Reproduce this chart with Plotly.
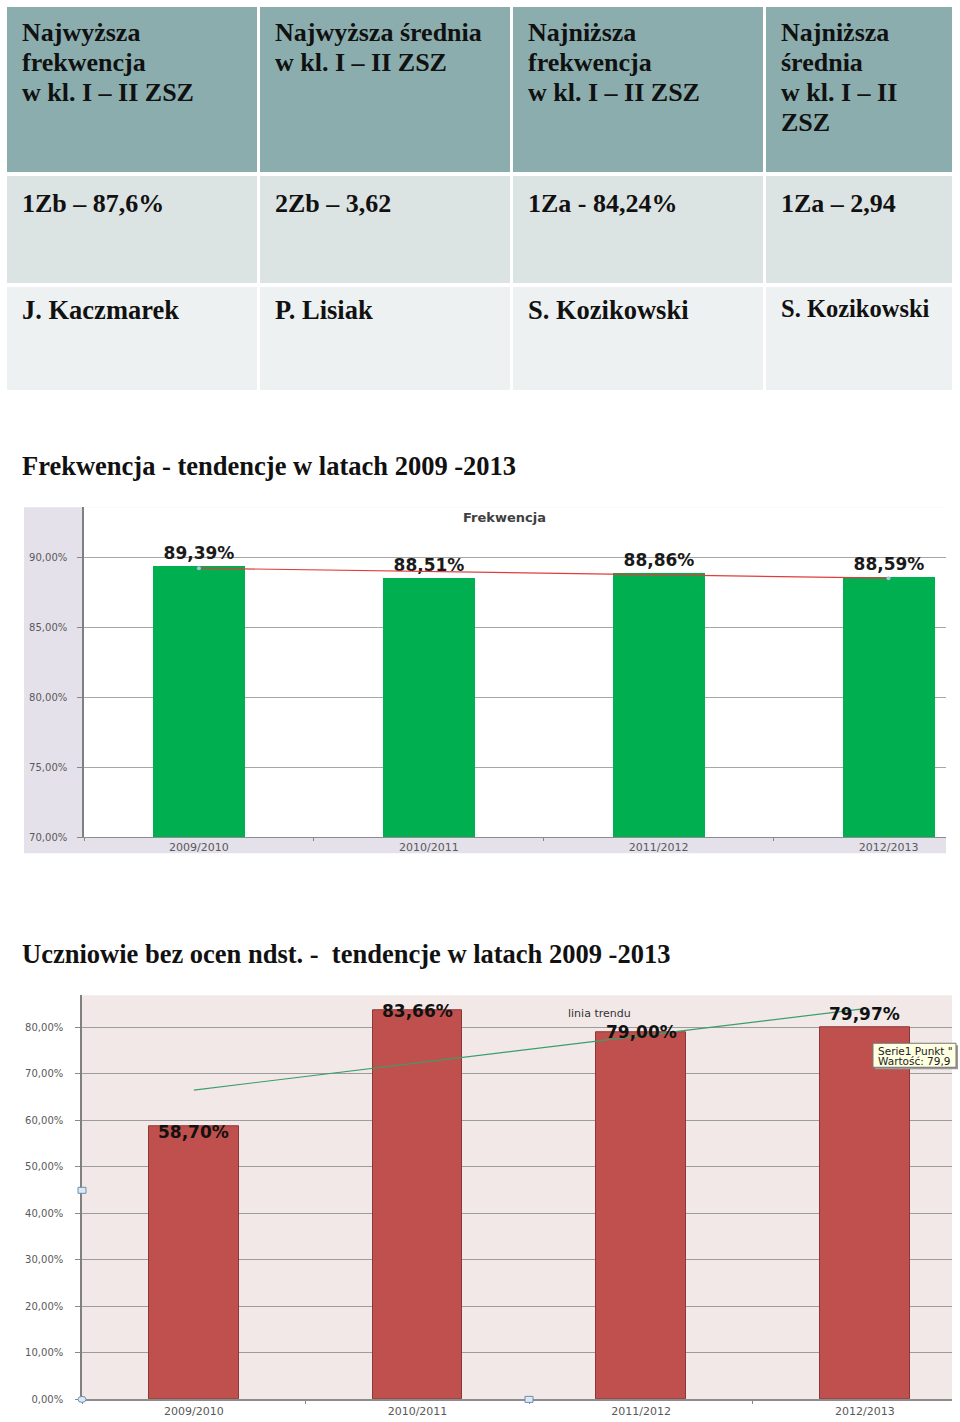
import plotly.graph_objects as go

# ---------------- data ----------------
categories = ["2009/2010", "2010/2011", "2011/2012", "2012/2013"]
attendance = [89.39, 88.51, 88.86, 88.59]          # Frekwencja (%)
attendance_trend = [89.21, 88.50]                  # trend line at first/last year
passing = [58.70, 83.66, 79.00, 79.97]             # Uczniowie bez ocen ndst. (%)
passing_trend = [66.5, 84.0]                       # trend line at first/last year
y1_ticks = [70, 75, 80, 85, 90]
y2_ticks = [0, 10, 20, 30, 40, 50, 60, 70, 80]

headers = [
    ["Najwyższa", "frekwencja", "w kl. I – II ZSZ"],
    ["Najwyższa średnia", "w kl. I – II ZSZ"],
    ["Najniższa", "frekwencja", "w kl. I – II ZSZ"],
    ["Najniższa", "średnia", "w kl. I – II", "ZSZ"],
]
row_results = ["1Zb – 87,6%", "2Zb – 3,62", "1Za - 84,24%", "1Za – 2,94"]
row_teachers = ["J. Kaczmarek", "P. Lisiak", "S. Kozikowski", "S. Kozikowski"]

title1 = "Frekwencja - tendencje w latach 2009 -2013"
title2 = "Uczniowie bez ocen ndst. -  tendencje w latach 2009 -2013"
chart1_title = "Frekwencja"
trend_label = "linia trendu"
tooltip_lines = ["Serie1 Punkt \"", "Wartość: 79,9"]


def pct(v):
    return f"{v:.2f}".replace(".", ",") + "%"


# ---------------- layout helpers ----------------
W, H = 960, 1422
K = 1.0045   # vertical correction


def px(x):
    return x / W


def py(y):
    return 1 - y * K / H


shapes = []
annotations = []


def rect(x0, y0, x1, y1, fill, line=None, lw=0, layer="below"):
    shapes.append(dict(type="rect", xref="paper", yref="paper",
                       x0=px(x0), x1=px(x1), y0=py(y1), y1=py(y0),
                       fillcolor=fill, layer=layer,
                       line=dict(color=line or fill, width=lw)))


def text(x, y, s, size, family="Liberation Serif", color="#111111",
         weight="bold", xanchor="left", yanchor="middle"):
    annotations.append(dict(xref="paper", yref="paper", x=px(x), y=py(y),
                            text=s, showarrow=False, xanchor=xanchor,
                            yanchor=yanchor,
                            font=dict(family=family, size=size, color=color,
                                      weight=weight)))


# ---------------- table ----------------
col_edges = [(7, 257), (260, 510), (513, 763), (766, 952)]
row_edges = [(7, 172), (176, 283), (287, 390)]
row_colors = ["#8BADAD", "#DCE3E3", "#EDF1F1"]
for (r0, r1), c in zip(row_edges, row_colors):
    for (c0, c1) in col_edges:
        rect(c0, r0, c1, r1, c)

for (c0, _), lines in zip(col_edges, headers):
    for i, ln in enumerate(lines):
        text(c0 + 13, 32 + 30 * i, ln, 26)

for (c0, _), s in zip(col_edges, row_results):
    text(c0 + 13, 203, s, 26)
for i, ((c0, _), s) in enumerate(zip(col_edges, row_teachers)):
    if i == 3:
        text(c0 + 13, 308, s, 24.5)
    else:
        text(c0 + 13, 310, s, 26.5)

# ---------------- titles ----------------
text(20, 466, title1, 26.5)
text(20, 954, title2, 26.5)

# ---------------- chart 1 backgrounds ----------------
rect(24, 507, 946, 853, "#E4E1EB")
rect(84, 507, 946, 837, "#FFFFFF")
text(504, 517, chart1_title, 13, family="DejaVu Sans", color="#404040",
     xanchor="center")

# ---------------- chart 2 backgrounds ----------------
rect(82, 995, 952, 1399, "#F2E8E8")

# ---------------- figure ----------------
fig = go.Figure()

fig.add_trace(go.Bar(
    x=categories, y=attendance, width=0.4,
    marker=dict(color="#00B050", line=dict(width=0)),
    text=[pct(v) for v in attendance], textposition="outside",
    textfont=dict(family="DejaVu Sans", size=17, color="#1A1A1A", weight="bold"),
    cliponaxis=False, xaxis="x", yaxis="y", showlegend=False))

fig.add_trace(go.Scatter(
    x=[categories[0], categories[-1]], y=attendance_trend, mode="lines+markers",
    line=dict(color="#E03C3C", width=1.2),
    marker=dict(size=4, color="#A9C4DC"),
    xaxis="x", yaxis="y", showlegend=False))

fig.add_trace(go.Bar(
    x=categories, y=passing, width=0.4,
    marker=dict(color="#C0504D", line=dict(color="#8C3836", width=1)),
    xaxis="x2", yaxis="y2", showlegend=False))

fig.add_trace(go.Scatter(
    x=[categories[0], categories[-1]], y=passing_trend, mode="lines",
    line=dict(color="#3A9E6A", width=1.2),
    xaxis="x2", yaxis="y2", showlegend=False))

# bar labels of chart 2 (label offsets, px)
label_shift = [-6, -1, 0, 13]
for c, v, s in zip(categories, passing, label_shift):
    annotations.append(dict(xref="x2", yref="y2", x=c, y=v, yshift=s,
                            text=pct(v), showarrow=False, yanchor="middle",
                            font=dict(family="DejaVu Sans", size=17,
                                      color="#111111", weight="bold")))

text(599, 1013, trend_label, 11, family="DejaVu Sans", color="#333333",
     weight="normal", xanchor="center")

# tooltip box
rect(875, 1045, 958, 1069, "#9A9A9A", layer="above")
rect(873, 1043, 956, 1067, "#FFFFE1", line="#767676", lw=1, layer="above")
text(876, 1050.5, tooltip_lines[0], 10.5, family="DejaVu Sans", color="#222222",
     weight="normal")
text(876, 1060.5, tooltip_lines[1], 10.5, family="DejaVu Sans", color="#222222",
     weight="normal")

# selection handles (decoration)
for (hx, hy, kind) in [(82, 1190, "rect"), (529, 1399, "rect"), (82, 1399, "circle")]:
    shapes.append(dict(type=kind, xref="paper", yref="paper",
                       x0=px(hx - 4), x1=px(hx + 4), y0=py(hy + 3), y1=py(hy - 3),
                       fillcolor="#DCE8F4", line=dict(color="#6C8FB0", width=1),
                       layer="above"))

axis_font = dict(family="DejaVu Sans", size=10, color="#595959")
xfont = dict(family="DejaVu Sans", size=11, color="#595959")

fig.update_layout(
    width=W, height=H, autosize=False,
    margin=dict(l=0, r=0, t=0, b=0),
    paper_bgcolor="#FFFFFF", plot_bgcolor="rgba(0,0,0,0)",
    bargap=0, showlegend=False,
    shapes=shapes, annotations=annotations,
    xaxis=dict(domain=[px(84), px(946)], anchor="y", type="category",
               range=[-0.5, 3.25], tickson="boundaries", ticks="outside",
               ticklen=3, tickcolor="#888888", showgrid=False,
               showline=True, linecolor="#8C8C8C", linewidth=1,
               tickfont=xfont, ticklabelstandoff=0, fixedrange=True),
    yaxis=dict(domain=[py(837), py(507)], anchor="x",
               range=[70, 70 + 330 / 14], tickvals=y1_ticks,
               ticktext=[pct(v) for v in y1_ticks], ticks="outside",
               ticklen=5, tickcolor="#888888", showgrid=True,
               gridcolor="#A6A6A6", gridwidth=1, showline=True,
               linecolor="#808080", linewidth=1.5, zeroline=False,
               tickfont=axis_font, ticklabelstandoff=8, fixedrange=True),
    xaxis2=dict(domain=[px(82), px(952)], anchor="y2", type="category",
                range=[-0.5, 3.39], tickson="boundaries", ticks="outside",
                ticklen=3, tickcolor="#888888", showgrid=False,
                showline=True, linecolor="#8C8C8C", linewidth=1.5,
                tickfont=xfont, ticklabelstandoff=1, fixedrange=True),
    yaxis2=dict(domain=[py(1399), py(995)], anchor="x2",
                range=[0, 404 / 4.65], tickvals=y2_ticks,
                ticktext=[pct(v) for v in y2_ticks], ticks="outside",
                ticklen=5, tickcolor="#888888", showgrid=True,
                gridcolor="#9C9C9C", gridwidth=1, showline=True,
                linecolor="#808080", linewidth=1.5, zeroline=False,
                tickfont=axis_font, ticklabelstandoff=10, fixedrange=True),
)

fig.write_html("out.html", config=dict(displayModeBar=False))
